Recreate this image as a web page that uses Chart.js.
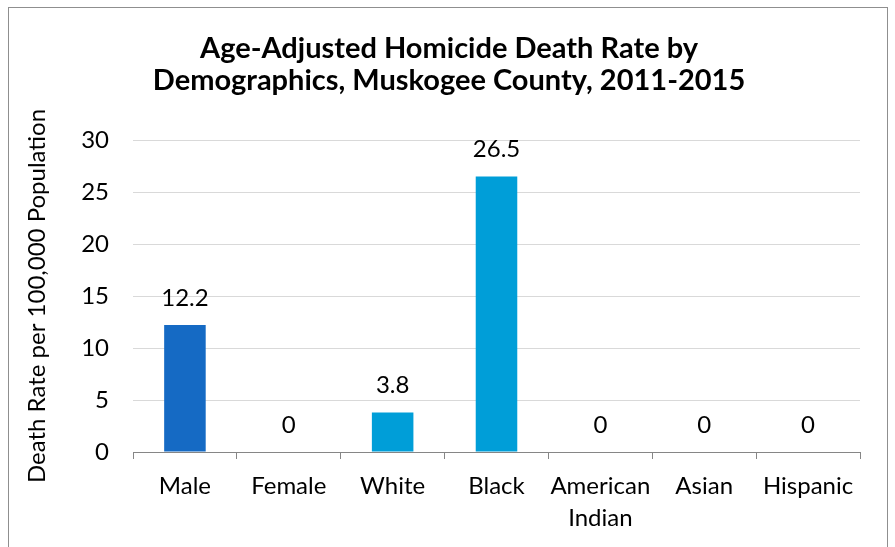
<!DOCTYPE html>
<html>
<head>
<meta charset="utf-8">
<title>Homicide Death Rate by Demographics</title>
<script src="https://cdn.jsdelivr.net/npm/chart.js@4"></script>
<style>
  html, body { margin: 0; padding: 0; background: #fff; overflow: hidden; }
  #frame { position: absolute; left: 8px; top: 7px; width: 878px; height: 600px; border: 1px solid #8f8f8f; }
  #homicideChart { position: absolute; left: 0; top: 0; }
</style>
</head>
<body>
<div id="frame"></div>
<canvas id="homicideChart" width="895" height="547"></canvas>
<script>
// data
const groups = ["Male", "Female", "White", "Black", ["American", "Indian"], "Asian", "Hispanic"];
const rates = [12.2, 0, 3.8, 26.5, 0, 0, 0];
const yTicks = [0, 5, 10, 15, 20, 25, 30];

const darkBlue = "rgb(21, 106, 196)";
const lightBlue = "rgb(0, 158, 216)";
const barColors = groups.map((g, i) => (i === 0 ? darkBlue : lightBlue));

const FONT = "Lato";
const TICK_SIZE = 24;

// value labels over the bars (no datalabels plugin here)
const valueLabels = {
  id: "valueLabels",
  afterDatasetsDraw(chart) {
    const ctx = chart.ctx;
    const meta = chart.getDatasetMeta(0);
    ctx.save();
    ctx.font = TICK_SIZE + "px " + FONT;
    ctx.fillStyle = "#000";
    ctx.textAlign = "center";
    ctx.textBaseline = "middle";
    meta.data.forEach((bar, i) => {
      ctx.fillText(String(rates[i]), bar.x, bar.y - 27);
    });
    ctx.restore();
  },
};

let chart = new Chart(document.querySelector("#homicideChart"), {
  type: "bar",
  data: {
    labels: groups,
    datasets: [
      {
        label: "Death Rate",
        data: rates,
        backgroundColor: barColors,
        borderWidth: 0,
        barPercentage: 0.4,
        categoryPercentage: 1,
      },
    ],
  },
  options: {
    responsive: false,
    animation: false,
    // left/right padding keeps the title centred where the original has it
    layout: { padding: { top: 0, right: 35, bottom: 0, left: 38 } },
    plugins: {
      legend: { display: false },
      tooltip: { enabled: false },
      title: {
        display: true,
        text: ["Age-Adjusted Homicide Death Rate by", "Demographics, Muskogee County, 2011-2015"],
        color: "#000",
        font: { family: FONT, size: 29, weight: "bold", lineHeight: "32px" },
        padding: { top: 33, bottom: 43 },
      },
    },
    scales: {
      x: {
        grid: {
          offset: true,
          drawOnChartArea: false,
          drawTicks: true,
          tickLength: 7,
          color: "#868686",
        },
        border: { color: "#868686" },
        ticks: {
          color: "#000",
          padding: 12,
          font: { family: FONT, size: TICK_SIZE, lineHeight: 1.3 },
          maxRotation: 0,
        },
        afterFit(scale) {
          scale.height = 95;
        },
      },
      y: {
        min: 0,
        max: 30,
        afterBuildTicks(scale) {
          scale.ticks = yTicks.map((v) => ({ value: v }));
        },
        grid: { color: "#d9d9d9", drawTicks: false },
        border: { display: false },
        ticks: {
          color: "#000",
          padding: 24,
          font: { family: FONT, size: TICK_SIZE },
        },
        title: {
          display: true,
          text: "Death Rate per 100,000 Population",
          color: "#000",
          font: { family: FONT, size: 24 },
          // negative: pulls the axis title out into the left padding
          padding: { top: -15, bottom: 0 },
        },
        afterFit(scale) {
          scale.width = 95;
        },
      },
    },
  },
  plugins: [valueLabels],
});
</script>
</body>
</html>
